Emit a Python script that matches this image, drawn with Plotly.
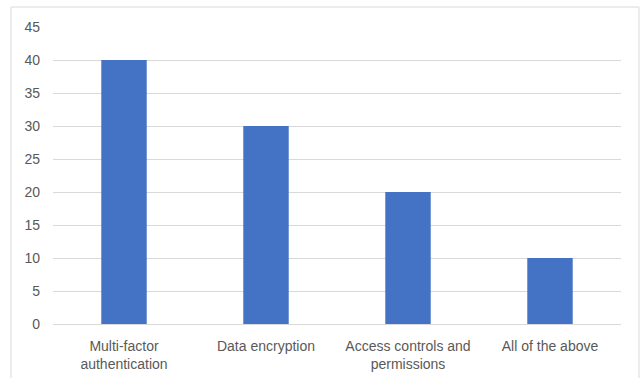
import plotly.graph_objects as go

# Security measures and their counts
categories = ["Multi-factor<br>authentication", "Data encryption",
              "Access controls and<br>permissions", "All of the above"]
values = [40, 30, 20, 10]
y_ticks = [0, 5, 10, 15, 20, 25, 30, 35, 40, 45]

W, H = 641, 378
L, R, T, B = 53, 20, 27, 54
pw, ph = W - L - R, H - T - B

font = dict(family="Liberation Sans, Arial, sans-serif", size=14, color="#595959")

fig = go.Figure(go.Bar(
    x=categories, y=values,
    marker=dict(color="#4472C4", line=dict(width=0)),
    width=0.32,
))

# Chart-area frame (bottom edge runs past the page)
fig.add_shape(type="rect", xref="paper", yref="paper",
              x0=(11 - L) / pw, x1=(639 - L) / pw,
              y0=(H - B - 400) / ph, y1=(H - B - 7) / ph,
              line=dict(color="#d9d9d9", width=1), fillcolor="rgba(0,0,0,0)",
              layer="below")

fig.update_layout(
    width=W, height=H,
    margin=dict(l=L, r=R, t=T, b=B, autoexpand=False),
    paper_bgcolor="white", plot_bgcolor="white",
    font=font,
    showlegend=False,
    xaxis=dict(showgrid=False, showline=False, ticks="", tickfont=font,
               ticklabelstandoff=12, automargin=False, fixedrange=True),
    yaxis=dict(range=[0, 45], tickvals=y_ticks, showgrid=True,
               gridcolor="#d9d9d9", gridwidth=1, zeroline=True,
               zerolinecolor="#d9d9d9", zerolinewidth=1, showline=False,
               ticks="", ticklabelstandoff=12, tickfont=font,
               automargin=False, fixedrange=True),
)

fig.write_html("out.html")
